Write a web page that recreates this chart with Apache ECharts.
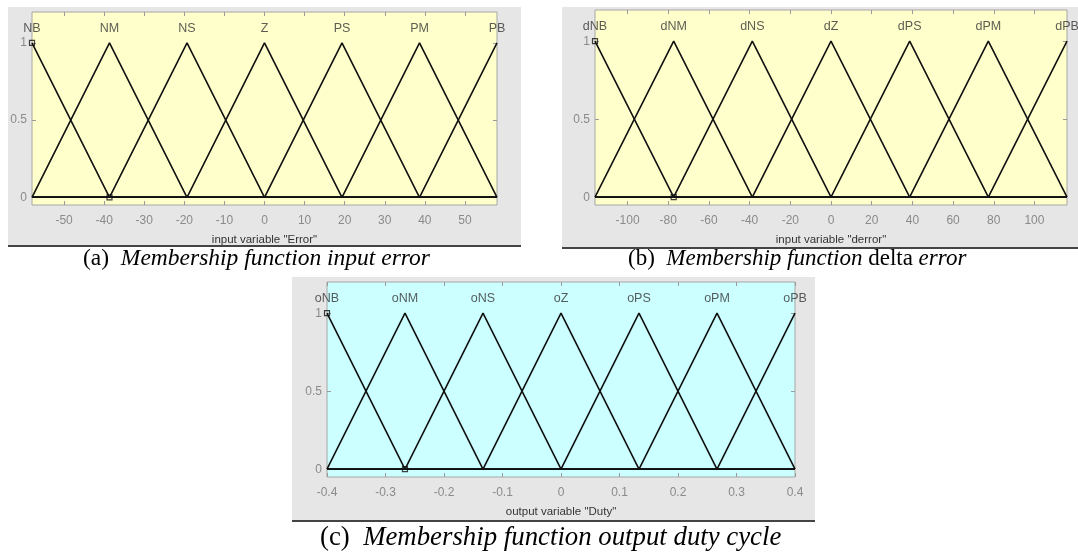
<!DOCTYPE html>
<html><head><meta charset="utf-8">
<script src="https://cdn.jsdelivr.net/npm/echarts@6/dist/echarts.min.js"></script>
<style>html,body{margin:0;padding:0;background:#fff}#c{width:1078px;height:553px}</style>
</head><body><div id="c"></div><script>
// ---- data ----
const errNames = ['NB','NM','NS','Z','PS','PM','PB'];
const errCenters = [-58,-38.67,-19.33,0,19.33,38.67,58];
const errRange = [-58,58];
const errTicks = [-50,-40,-30,-20,-10,0,10,20,30,40,50];

const derrNames = ['dNB','dNM','dNS','dZ','dPS','dPM','dPB'];
const derrCenters = [-116,-77.33,-38.67,0,38.67,77.33,116];
const derrRange = [-116,116];
const derrTicks = [-100,-80,-60,-40,-20,0,20,40,60,80,100];

const dutyNames = ['oNB','oNM','oNS','oZ','oPS','oPM','oPB'];
const dutyCenters = [-0.4,-0.2667,-0.1333,0,0.1333,0.2667,0.4];
const dutyRange = [-0.4,0.4];
const dutyTicks = [-0.4,-0.3,-0.2,-0.1,0,0.1,0.2,0.3,0.4];

const yTicks = [0,0.5,1];
const yRange = [-0.05,1.2];

// ---- build ----
function triPoints(centers, range){
  const w = centers[1]-centers[0];
  return centers.map(c=>{
    const f = x => Math.max(0, 1-Math.abs(x-c)/w);
    let xs = [range[0]];
    if (c-w > range[0]) xs.push(c-w);
    xs.push(c);
    if (c+w < range[1]) xs.push(c+w);
    xs.push(range[1]);
    xs = xs.filter((v,i)=>i===0||v!==xs[i-1]);
    return xs.map(x=>[x,f(x)]);
  });
}

const panels = [
  {names:errNames, centers:errCenters, range:errRange, ticks:errTicks, title:'input variable "Error"', bg:'#FFFFCC',
   grid:{left:32,top:12,width:465,height:193}},
  {names:derrNames, centers:derrCenters, range:derrRange, ticks:derrTicks, title:'input variable "derror"', bg:'#FFFFCC',
   grid:{left:595,top:10,width:472,height:195}},
  {names:dutyNames, centers:dutyCenters, range:dutyRange, ticks:dutyTicks, title:'output variable "Duty"', bg:'#CCFFFF',
   grid:{left:327,top:282,width:468,height:195}}
];

const grids=[], xAxes=[], yAxes=[], series=[];
const tickColor='#9a9a9a', labColor='#8a8a8a';
panels.forEach((p,i)=>{
  grids.push(Object.assign({show:true, backgroundColor:p.bg, borderColor:'#a6a6a6', borderWidth:1, containLabel:false}, p.grid));
  const bx = xAxes.length;
  xAxes.push({type:'value', gridIndex:i, min:p.range[0], max:p.range[1], position:'bottom',
    axisLine:{show:false, onZero:false}, splitLine:{show:false},
    axisTick:{show:true, inside:true, length:4, lineStyle:{color:tickColor}, customValues:p.ticks},
    axisLabel:{show:true, color:labColor, fontSize:12, fontFamily:'Liberation Sans', margin:10, customValues:p.ticks,
      formatter:v=>String(v)},
    name:p.title, nameLocation:'middle', nameGap:29,
    nameTextStyle:{color:'#333', fontSize:11.5, fontFamily:'Liberation Sans'}});
  xAxes.push({type:'value', gridIndex:i, min:p.range[0], max:p.range[1], position:'top',
    axisLine:{show:false, onZero:false}, splitLine:{show:false},
    axisTick:{show:true, inside:true, length:4, lineStyle:{color:tickColor}, customValues:p.ticks},
    axisLabel:{show:false}});
  const by = yAxes.length;
  yAxes.push({type:'value', gridIndex:i, min:yRange[0], max:yRange[1], position:'left',
    axisLine:{show:false, onZero:false}, splitLine:{show:false},
    axisTick:{show:true, inside:true, length:4, lineStyle:{color:tickColor}, customValues:yTicks},
    axisLabel:{show:true, color:labColor, fontSize:12, fontFamily:'Liberation Sans', margin:5, customValues:yTicks,
      formatter:v=>String(v)}});
  yAxes.push({type:'value', gridIndex:i, min:yRange[0], max:yRange[1], position:'right',
    axisLine:{show:false, onZero:false}, splitLine:{show:false},
    axisTick:{show:true, inside:true, length:4, lineStyle:{color:tickColor}, customValues:yTicks},
    axisLabel:{show:false}});
  triPoints(p.centers, p.range).forEach(pts=>{
    series.push({type:'line', xAxisIndex:bx, yAxisIndex:by, data:pts, symbol:'none', silent:true,
      lineStyle:{color:'#111', width:1.6}, z:5});
  });
  series.push({type:'scatter', xAxisIndex:bx, yAxisIndex:by, symbolSize:0, silent:true,
    data:p.names.map((n,k)=>[p.centers[k],1,n]),
    label:{show:true, position:'top', distance:8, formatter:q=>q.value[2], color:'#333', fontSize:12.5, fontFamily:'Liberation Sans'}, z:6});
  // selected-MF vertex markers
  series.push({type:'scatter', xAxisIndex:bx, yAxisIndex:by, symbol:'rect', symbolSize:5, silent:true,
    data:[[p.centers[0],1],[p.centers[1],0]],
    itemStyle:{color:'rgba(0,0,0,0)', borderColor:'#111', borderWidth:1.2}, z:7});
});

const capFont='Liberation Serif';
function caption(x,y,size,parts){
  return {type:'text', left:x, top:y, z:50, style:{
    text: parts.map(p=>'{'+p[0]+'|'+p[1]+'}').join(''),
    rich:{n:{fontFamily:capFont,fontSize:size,fontStyle:'normal',fill:'#000'}, i:{fontFamily:capFont,fontSize:size,fontStyle:'italic',fill:'#000'}}
  }};
}

const graphic = [
  {type:'rect', shape:{x:8,y:7,width:513,height:239}, style:{fill:'#e6e6e6'}, z:-10},
  {type:'rect', shape:{x:562,y:7,width:516,height:241}, style:{fill:'#e6e6e6'}, z:-10},
  {type:'rect', shape:{x:292,y:277,width:523,height:244}, style:{fill:'#e6e6e6'}, z:-10},
  {type:'line', shape:{x1:8,y1:246,x2:521,y2:246}, style:{stroke:'#444',lineWidth:2}, z:60},
  {type:'line', shape:{x1:562,y1:248,x2:1078,y2:248}, style:{stroke:'#444',lineWidth:2}, z:60},
  {type:'line', shape:{x1:292,y1:521,x2:815,y2:521}, style:{stroke:'#444',lineWidth:2}, z:60},
  caption(83,247,23.5,[['n','(a)  '],['i','Membership function input error']]),
  caption(628,247,23,[['n','(b)  '],['i','Membership function '],['n','delta '],['i','error']]),
  caption(320,524,26.8,[['n','(c)  '],['i','Membership function output duty cycle']])
];

const chart = echarts.init(document.getElementById('c'), null, {renderer:'canvas'});
chart.setOption({animation:false, backgroundColor:'#fff', grid:grids, xAxis:xAxes, yAxis:yAxes, series:series, graphic:graphic});
</script></body></html>
